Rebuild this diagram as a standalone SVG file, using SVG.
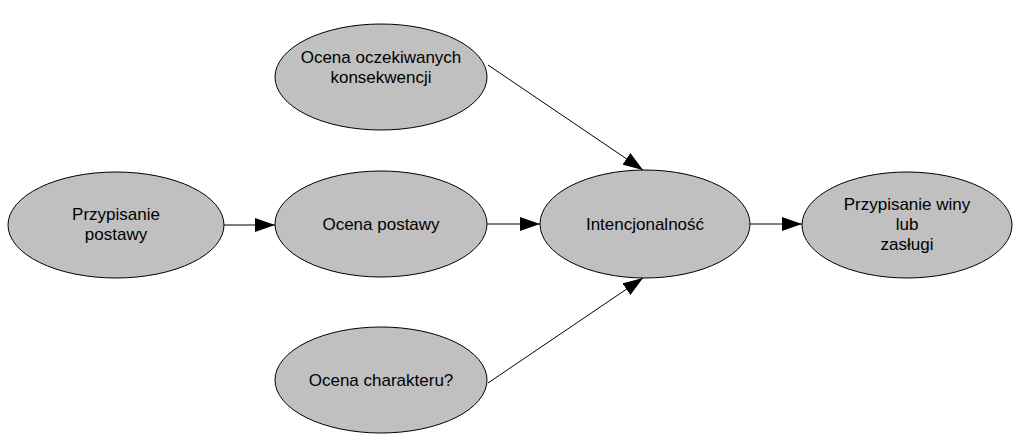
<svg xmlns="http://www.w3.org/2000/svg" width="1024" height="445" viewBox="0 0 1024 445">
<style>
.n ellipse{fill:#c0c0c0;stroke:#000;stroke-width:1}
.n text{font-family:"Liberation Sans",Arial,sans-serif;font-size:17px;text-anchor:middle;fill:#000}
.c line{stroke:#000;stroke-width:1;marker-end:url(#a)}
</style>
<defs><marker id="a" markerWidth="20" markerHeight="14" refX="20" refY="7" orient="auto" markerUnits="userSpaceOnUse"><path d="M0,0 L20,7 L0,14 Z" fill="#000"/></marker></defs>
<rect width="1024" height="445" fill="#fff"/>
<g id="n1" class="n"><ellipse cx="116" cy="225" rx="108" ry="53"/><text x="116" y="220">Przypisanie</text><text x="116" y="240">postawy</text></g>
<g id="n2" class="n"><ellipse cx="381" cy="224" rx="106" ry="53"/><text x="381" y="230">Ocena postawy</text></g>
<g id="n3" class="n"><ellipse cx="645" cy="224" rx="105" ry="54"/><text x="645" y="230">Intencjonalność</text></g>
<g id="n4" class="n"><ellipse cx="907" cy="225" rx="105" ry="53"/><text x="907" y="210">Przypisanie winy</text><text x="907" y="230">lub</text><text x="907" y="250">zasługi</text></g>
<g id="n5" class="n"><ellipse cx="381" cy="77" rx="106" ry="53"/><text x="381" y="63">Ocena oczekiwanych</text><text x="381" y="83">konsekwencji</text></g>
<g id="n6" class="n"><ellipse cx="381" cy="380" rx="106" ry="53"/><text x="381" y="386">Ocena charakteru?</text></g>
<g id="connectors" class="c">
<line x1="224" y1="225" x2="275" y2="225"/>
<line x1="487" y1="224" x2="540" y2="224"/>
<line x1="750" y1="224" x2="802" y2="224"/>
<line x1="488" y1="65" x2="643" y2="170"/>
<line x1="488" y1="383" x2="643" y2="278"/>
</g>
</svg>
